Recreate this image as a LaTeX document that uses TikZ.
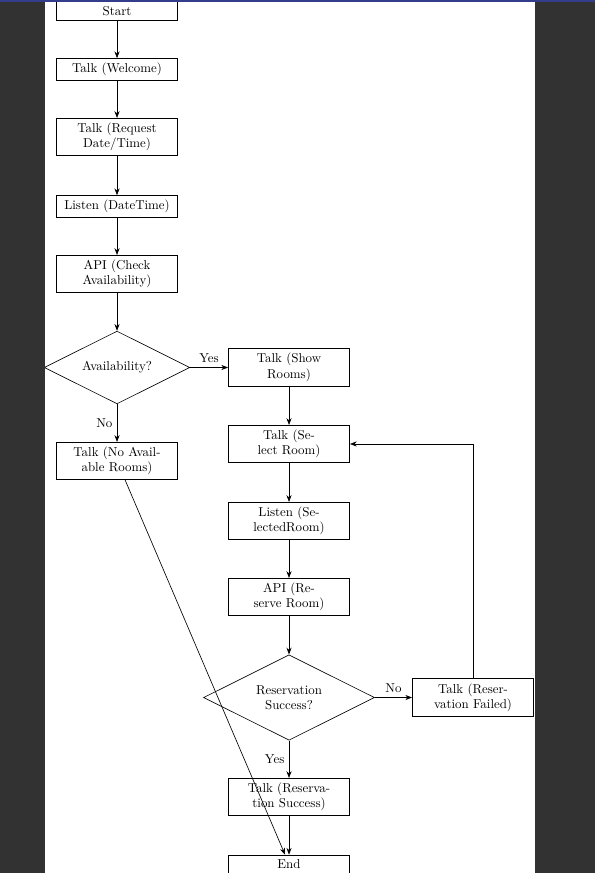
\documentclass[tikz,border=0pt]{standalone}
\usepackage{amsmath}
\usepackage{amssymb}
\usepackage{tikz}
\usetikzlibrary{arrows.meta,calc,positioning,shapes.geometric}

\definecolor{viewerdark}{HTML}{323232}
\definecolor{viewerblue}{HTML}{343C8C}

\tikzset{
  stepbox/.style={draw=black, line width=0.5pt, rectangle, text width=3cm, align=center, inner xsep=4.3pt, inner ysep=3.5pt},
  decision/.style={draw=black, line width=0.5pt, diamond, aspect=2, text width=3cm, align=center, inner sep=1.5pt},
  flow/.style={black, line width=0.5pt, -{Stealth[scale=1.0]}},
}

\begin{document}
\begin{tikzpicture}
% =============================================
% - viewer background and page.
\useasboundingbox (0,0) rectangle (16.21,-23.784);
\fill[viewerdark] (0,0) rectangle (16.21,-23.784);
\fill[white] (1.226,0) rectangle (14.576,-23.784);
\begin{scope}
\clip (1.226,0) rectangle (14.576,-23.784);
%
% - left column.
\node[stepbox] (start) at (3.188,-0.30) {Start};
\node[stepbox] (welcome) at (3.188,-1.893) {Talk (Welcome)};
\node[stepbox] (askdate) at (3.188,-3.732) {Talk (Request Date/Time)};
\node[stepbox] (heardate) at (3.188,-5.626) {Listen (DateTime)};
\node[stepbox] (checkapi) at (3.188,-7.465) {API (Check Availability)};
\node[decision] (avail) at (3.188,-10.012) {Availability?};
\node[stepbox] (norooms) at (3.188,-12.559) {Talk (No Available Rooms)};
%
% - right column.
\node[stepbox] (showrooms) at (7.874,-10.012) {Talk (Show Rooms)};
\node[stepbox] (askroom) at (7.874,-12.096) {Talk (Select Room)};
\node[stepbox] (hearroom) at (7.874,-14.194) {Listen (SelectedRoom)};
\node[stepbox] (reserveapi) at (7.874,-16.265) {API (Reserve Room)};
\node[decision] (reserved) at (7.874,-19.003) {Reservation Success?};
\node[stepbox] (failed) at (12.887,-19.003) {Talk (Reservation Failed)};
\node[stepbox] (success) at (7.874,-21.714) {Talk (Reservation Success)};
\node[stepbox] (finish) at (7.874,-23.54) {End};
%
% - connectors.
\draw[flow] (start) -- (welcome);
\draw[flow] (welcome) -- (askdate);
\draw[flow] (askdate) -- (heardate);
\draw[flow] (heardate) -- (checkapi);
\draw[flow] (checkapi) -- (avail);
\draw[flow] (avail) -- node[above] {Yes} (showrooms);
\draw[flow] (avail) -- node[left] {No} (norooms);
\draw[flow] (showrooms) -- (askroom);
\draw[flow] (askroom) -- (hearroom);
\draw[flow] (hearroom) -- (reserveapi);
\draw[flow] (reserveapi) -- (reserved);
\draw[flow] (reserved) -- node[above] {No} (failed);
\draw[flow] (failed.north) |- (askroom.east);
\draw[flow] (reserved) -- node[left] {Yes} (success);
\draw[flow] (success) -- (finish);
\draw[flow] (norooms) -- (finish);
\end{scope}
% - top edge of the viewer.
\fill[viewerblue] (0,0) rectangle (16.21,-0.06);
% =============================================
\end{tikzpicture}
\end{document}
